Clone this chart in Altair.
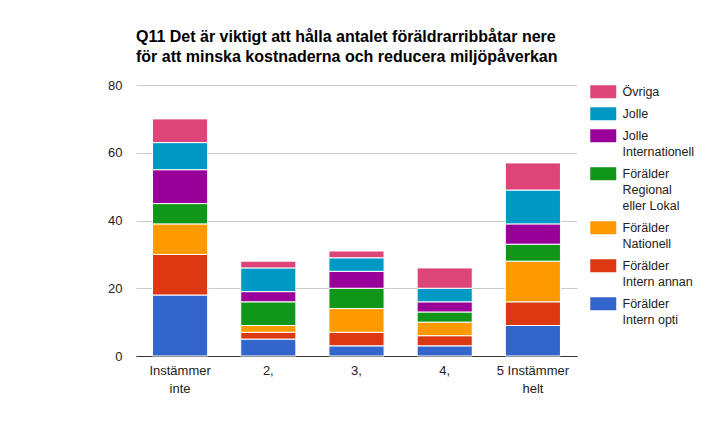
import altair as alt
import pandas as pd

categories = ["Instämmer inte", "2,", "3,", "4,", "5 Instämmer helt"]
x_label_lines = {"Instämmer inte": ["Instämmer", "inte"], "5 Instämmer helt": ["5 Instämmer", "helt"]}

# series from bottom of the stack to top
series = [
    "Förälder Intern opti",
    "Förälder Intern annan",
    "Förälder Nationell",
    "Förälder Regional eller Lokal",
    "Jolle Internationell",
    "Jolle",
    "Övriga",
]
colors = ["#3366cc", "#dc3912", "#ff9900", "#109618", "#990099", "#0099c6", "#dd4477"]

intern_opti = [18, 5, 3, 3, 9]
intern_annan = [12, 2, 4, 3, 7]
nationell = [9, 2, 7, 4, 12]
regional_lokal = [6, 7, 6, 3, 5]
jolle_int = [10, 3, 5, 3, 6]
jolle = [8, 7, 4, 4, 10]
ovriga = [7, 2, 2, 6, 8]
values = [intern_opti, intern_annan, nationell, regional_lokal, jolle_int, jolle, ovriga]

legend_lines = {
    "Övriga": ["Övriga"],
    "Jolle": ["Jolle"],
    "Jolle Internationell": ["Jolle", "Internationell"],
    "Förälder Regional eller Lokal": ["Förälder", "Regional", "eller Lokal"],
    "Förälder Nationell": ["Förälder", "Nationell"],
    "Förälder Intern annan": ["Förälder", "Intern annan"],
    "Förälder Intern opti": ["Förälder", "Intern opti"],
}

rows = []
for si, (name, vals) in enumerate(zip(series, values)):
    for c, v in zip(categories, vals):
        rows.append({"cat": c, "series": name, "value": v, "order": si})
df = pd.DataFrame(rows)


def lines_expr(mapping):
    expr = "datum.label"
    for k, v in mapping.items():
        arr = "[" + ",".join("'" + s + "'" for s in v) + "]"
        expr = f"datum.label == '{k}' ? {arr} : ({expr})"
    return expr


legend_domain = list(reversed(series))
legend_range = list(reversed(colors))

chart = alt.Chart(df).mark_bar(stroke="white", strokeWidth=1).encode(
    x=alt.X("cat:N", sort=categories, title=None,
            scale=alt.Scale(paddingInner=0.375, paddingOuter=0.1875),
            axis=alt.Axis(labelAngle=0, labelExpr=lines_expr(x_label_lines), ticks=False,
                          domainColor="#333", labelPadding=8, labelLineHeight=18,
                          labelBaseline="top")),
    y=alt.Y("value:Q", stack="zero", title=None,
            scale=alt.Scale(domain=[0, 80]),
            axis=alt.Axis(values=[0, 20, 40, 60, 80], domain=False, ticks=False,
                          gridColor="#cccccc", labelPadding=14)),
    color=alt.Color("series:N", scale=alt.Scale(domain=legend_domain, range=legend_range),
                    legend=alt.Legend(title=None, orient="none", legendX=452, legendY=-5,
                                      symbolType="M-1,-0.25L5.5,-0.25L5.5,3L-1,3Z",
                                      symbolSize=64, symbolStrokeWidth=0,
                                      labelExpr=lines_expr(legend_lines),
                                      labelBaseline="top", labelOffset=22,
                                      rowPadding=3, labelLimit=200)),
    order=alt.Order("order:Q", sort="ascending"),
).properties(
    width=441, height=271,
    title=alt.Title(["Q11 Det är viktigt att hålla antalet föräldrarribbåtar nere",
                     "för att minska kostnaderna och reducera miljöpåverkan"],
                    anchor="start", frame="group", fontSize=16, fontWeight="bold",
                    font="Liberation Sans", color="#000", offset=14, lineHeight=20),
    autosize=alt.AutoSizeParams(type="none"),
    padding={"left": 128, "top": 77, "right": 128, "bottom": 40},
).configure(
    view=alt.ViewConfig(stroke=None),
    axis=alt.AxisConfig(labelFont="Liberation Sans", labelFontSize=13, labelColor="#222"),
    legend=alt.LegendConfig(labelFont="Liberation Sans", labelFontSize=12.5, labelColor="#222"),
    style={"guide-label": {"lineHeight": 16}},
)

chart.save("out.html", embed_options={"renderer": "svg", "actions": False})
